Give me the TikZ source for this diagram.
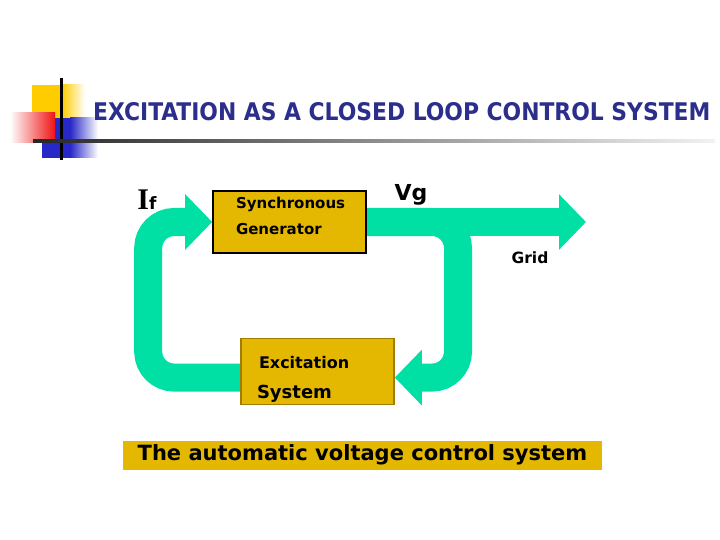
\documentclass[tikz,border=0pt]{standalone}
\usepackage{fontspec}
\setmainfont{DejaVu Sans}
\newfontfamily\condfont{DejaVu Sans Condensed}
\newfontfamily\serifbf{Liberation Serif}
\usetikzlibrary{positioning,arrows.meta,backgrounds}
\definecolor{bandgreen}{RGB}{0,224,164}
\definecolor{boxgold}{RGB}{228,184,0}
\definecolor{excedge}{RGB}{160,125,0}
\definecolor{titleblue}{RGB}{44,46,140}
\definecolor{sqyellow}{RGB}{255,204,0}
\definecolor{sqblue}{RGB}{40,40,200}
\definecolor{sqred}{RGB}{240,20,20}

\begin{document}
\begin{tikzpicture}[x=1pt, y=-1pt,
  band/.style={line width=28pt, draw=bandgreen, rounded corners=26pt, -{Triangle[length=27pt, width=54pt]}},
  box/.style={draw, fill=boxgold, line width=1.6pt, inner ysep=0pt, minimum width=153pt, align=left},
  lbl/.style={inner sep=0pt, font=\bfseries}]
\useasboundingbox (0,0) rectangle (720,540);
% title bullet
\fill[sqyellow] (32,85) rectangle (62,120);
\shade[left color=sqyellow, right color=white] (62,85) rectangle (85,120);
\fill[sqblue] (42,118) rectangle (70,158);
\shade[left color=sqblue, right color=white] (70,118) rectangle (98,158);
\shade[left color=white, right color=sqred] (10,113) rectangle (55,143);
\fill[black] (59.5,78) rectangle (62.5,160);
\shade[left color=black!85, right color=black!5] (33,139.5) rectangle (715,142.5);
\node[lbl, font=\condfont\bfseries\fontsize{24.3}{28}\selectfont, text=titleblue, anchor=west] (title) at (93,112) {EXCITATION AS A CLOSED LOOP CONTROL SYSTEM};

\node[box, inner xsep=23pt, text width=107pt, text height=17pt, text depth=45pt, font=\bfseries\fontsize{15}{27}\selectfont] (gen) at (289.5,222) {Synchronous\\Generator};
\node[box, draw=excedge, inner xsep=16pt, text width=121pt, text height=30pt, text depth=36pt, font=\bfseries\fontsize{16}{30}\selectfont, below=84pt of gen, xshift=28pt] (exc) {\hspace*{2pt}Excitation\\{\fontsize{18}{30}\selectfont System}};
\node[fill=boxgold, minimum width=479pt, minimum height=29pt, font=\bfseries\fontsize{21}{22}\selectfont, below=35pt of exc, xshift=45pt] (caption) {The automatic voltage control system};

\node[lbl] (If) at (147,200) {\serifbf\bfseries\fontsize{30}{30}\selectfont I\fontspec{DejaVu Sans}\bfseries\fontsize{17}{17}\selectfont f};
\node[lbl, font=\bfseries\fontsize{22}{22}\selectfont] (vg) at (411,195) {Vg};
\node[lbl, font=\bfseries\fontsize{15.5}{16}\selectfont] (grid) at (530,258) {Grid};

\coordinate (out) at (586,222);
\coordinate (tap) at (458,222);
\begin{scope}[on background layer]
\draw[band] (gen.east) -- (out);
\draw[band] (gen.east) -- (tap) |- ([yshift=-6pt]exc.east);
\draw[band] ([yshift=-6pt]exc.west) -| ([xshift=-64pt]gen.west) -- (gen.west);
\end{scope}
\end{tikzpicture}
\end{document}
